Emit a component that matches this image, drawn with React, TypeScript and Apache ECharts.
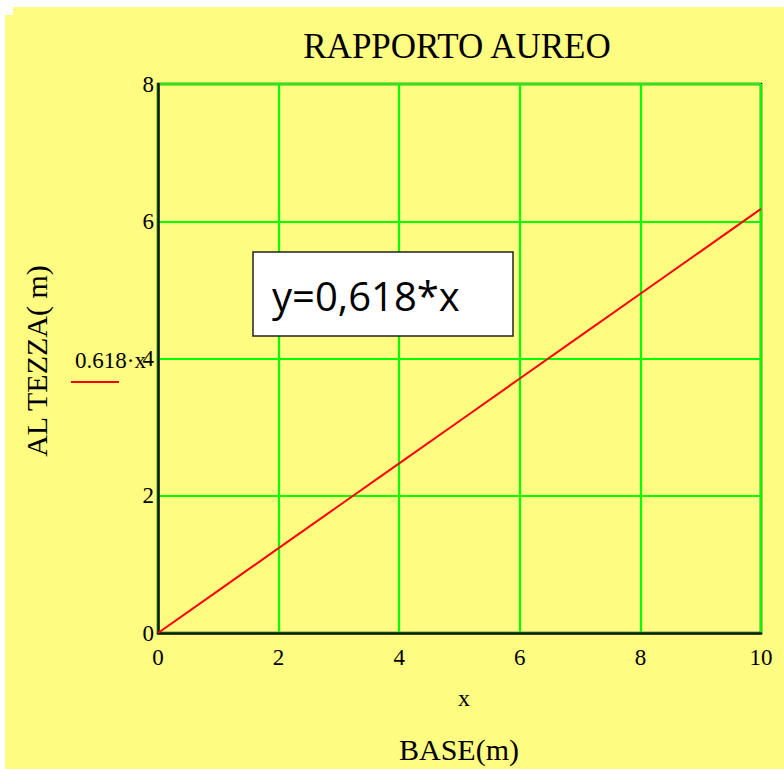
import React, { useEffect, useRef } from "react";
import * as echarts from "echarts";

const xValues = [0, 1, 2, 3, 4, 5, 6, 7, 8, 9, 10];
const yValues = [0, 0.618, 1.236, 1.854, 2.472, 3.09, 3.708, 4.326, 4.944, 5.562, 6.18];
const titleText = "RAPPORTO AUREO";
const xAxisName = "BASE(m)";
const xVarName = "x";
const yAxisName = "AL TEZZA( m)";
const legendText = "0.618·x";
const boxText = "y=0,618*x";

const W = 784;
const H = 769;
const serif = "Liberation Serif";
const frame = "#0d1a0d";

const txt = (text: string, size: number, family: string, align = "center") => ({
  text,
  fontSize: size,
  fontFamily: family,
  fill: "#000",
  align,
  verticalAlign: "middle",
});

export default function App() {
  const ref = useRef<HTMLDivElement>(null);
  useEffect(() => {
    if (!ref.current) return;
    const chart = echarts.init(ref.current, null, { renderer: "svg" });
    chart.setOption({
      animation: false,
      backgroundColor: "#ffffff",
      textStyle: { fontFamily: serif },
      grid: {
        left: 158,
        right: W - 761,
        top: 84,
        bottom: H - 633,
        show: true,
        borderColor: frame,
        borderWidth: 2.5,
        backgroundColor: "transparent",
      },
      xAxis: {
        type: "value",
        min: 0,
        max: 10,
        interval: 2,
        axisLine: { show: true, onZero: false, lineStyle: { color: frame, width: 2.5 } },
        axisTick: { show: false },
        splitLine: { show: true, lineStyle: { color: "#00ff00", width: 2.2 } },
        axisLabel: { color: "#000", fontFamily: serif, fontSize: 23, margin: 13 },
      },
      yAxis: {
        type: "value",
        min: 0,
        max: 8,
        interval: 2,
        axisLine: { show: true, onZero: false, lineStyle: { color: frame, width: 2.5 } },
        axisTick: { show: false },
        splitLine: { show: true, lineStyle: { color: "#00ff00", width: 2.2 } },
        axisLabel: { color: "#000", fontFamily: serif, fontSize: 23, margin: 4 },
      },
      series: [
        {
          type: "line",
          data: xValues.map((x, i) => [x, yValues[i]]),
          showSymbol: false,
          symbol: "none",
          lineStyle: { color: "#ff0000", width: 2 },
          z: 5,
        },
      ],
      graphic: [
        { type: "rect", z: -10, shape: { x: 5, y: 15, width: W - 5, height: H - 15 }, style: { fill: "#fffc82" } },
        { type: "rect", z: -10, shape: { x: 13, y: 7, width: W - 13, height: 9 }, style: { fill: "#fffc82" } },
        { type: "text", x: 457, y: 46, style: txt(titleText, 35, serif) },
        { type: "text", x: 459, y: 749, style: txt(xAxisName, 30, serif) },
        { type: "text", x: 464, y: 698, style: txt(xVarName, 24, serif) },
        { type: "text", x: 36, y: 361, rotation: Math.PI / 2, style: txt(yAxisName, 30, serif) },
        { type: "text", x: 75, y: 360, style: txt(legendText, 23, serif, "left") },
        {
          type: "line",
          shape: { x1: 71, y1: 382, x2: 119, y2: 382 },
          style: { stroke: "#ff0000", lineWidth: 2 },
        },
        {
          type: "rect",
          z: 20,
          shape: { x: 253, y: 252, width: 260, height: 84 },
          style: { fill: "#ffffff", stroke: "#222", lineWidth: 1.5 },
        },
        { type: "text", z: 21, x: 272, y: 295, style: txt(boxText, 40, "Open Sans", "left") },
      ],
    });
    return () => chart.dispose();
  }, []);
  return <div ref={ref} style={{ position: "absolute", left: 0, top: 0, width: W, height: H }} />;
}
